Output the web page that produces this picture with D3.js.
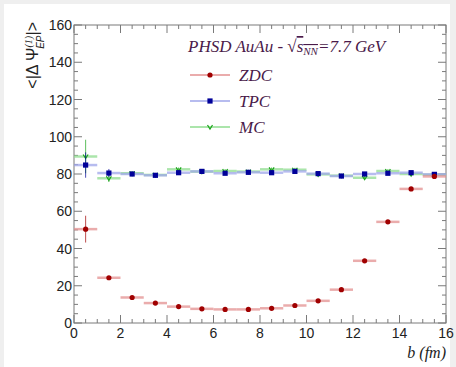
<!DOCTYPE html>
<html>
<head>
<meta charset="utf-8">
<script src="https://cdn.jsdelivr.net/npm/d3@7"></script>
<style>
  body { margin: 0; background: #efefef; }
  svg { display: block; }
</style>
</head>
<body>
<svg id="chart" width="456" height="367"></svg>
<script>
// bin centres of impact parameter b (fm), width 1 fm
const bCenters = [0.5, 1.5, 2.5, 3.5, 4.5, 5.5, 6.5, 7.5, 8.5, 9.5, 10.5, 11.5, 12.5, 13.5, 14.5, 15.5];
const zdcValues = [50.4, 24.3, 13.7, 10.7, 8.8, 7.6, 7.3, 7.3, 7.9, 9.4, 11.9, 17.9, 33.4, 54.3, 72.0, 78.7];
const zdcErrors = [7.2, 0.6, 0.5, 0.4, 0.3, 0.3, 0.3, 0.3, 0.3, 0.3, 0.4, 0.5, 0.6, 0.7, 0.8, 0.9];
const tpcValues = [84.8, 80.5, 80.0, 79.3, 80.7, 81.4, 80.4, 80.9, 80.7, 81.4, 80.2, 78.9, 80.0, 80.4, 80.7, 79.8];
const tpcErrors = [6.8, 2.2, 1.2, 1.0, 1.0, 1.0, 0.9, 0.9, 0.9, 0.9, 0.9, 0.9, 1.0, 1.0, 1.0, 1.0];
const mcValues = [89.4, 77.7, 80.4, 79.5, 82.5, 81.3, 81.6, 81.3, 82.5, 82.3, 79.8, 79.1, 78.0, 81.6, 80.0, 79.6];
const mcErrors = [9.0, 2.0, 1.2, 1.0, 1.0, 1.0, 1.0, 1.0, 1.0, 1.0, 1.0, 1.0, 1.0, 1.0, 1.0, 1.0];
const xTicks = [0, 2, 4, 6, 8, 10, 12, 14, 16];
const yTicks = [0, 20, 40, 60, 80, 100, 120, 140, 160];
const legendNames = ["ZDC", "TPC", "MC"];

const PLOT = { left: 74, right: 446, top: 25, bottom: 323 };
const AXIS_COLOR = "#7a7a7a";
const TEXT_COLOR = "#4a1a4a";

const svg = d3.select("#chart");

// white pad
svg.append("rect")
  .attr("x", 4).attr("y", 4)
  .attr("width", 446).attr("height", 363)
  .attr("fill", "#ffffff");

const x = d3.scaleLinear().domain([0, 16]).range([PLOT.left, PLOT.right]);
const y = d3.scaleLinear().domain([0, 160]).range([PLOT.bottom, PLOT.top]);

// frame with ticks on all four sides
const frame = svg.append("g");
frame.append("rect")
  .attr("x", PLOT.left).attr("y", PLOT.top)
  .attr("width", PLOT.right - PLOT.left).attr("height", PLOT.bottom - PLOT.top)
  .attr("fill", "none").attr("stroke", AXIS_COLOR).attr("stroke-width", 1);

const xMinor = d3.range(0, 16.01, 0.5);
const yMinor = d3.range(0, 160.1, 5);
xMinor.forEach((v) => {
  const len = v % 2 === 0 ? 8 : 4;
  frame.append("line")
    .attr("x1", x(v)).attr("x2", x(v))
    .attr("y1", PLOT.bottom).attr("y2", PLOT.bottom - len)
    .attr("stroke", AXIS_COLOR);
  frame.append("line")
    .attr("x1", x(v)).attr("x2", x(v))
    .attr("y1", PLOT.top).attr("y2", PLOT.top + len)
    .attr("stroke", AXIS_COLOR);
});
yMinor.forEach((v) => {
  const len = v % 20 === 0 ? 8 : 4;
  frame.append("line")
    .attr("x1", PLOT.left).attr("x2", PLOT.left + len)
    .attr("y1", y(v)).attr("y2", y(v))
    .attr("stroke", AXIS_COLOR);
  frame.append("line")
    .attr("x1", PLOT.right).attr("x2", PLOT.right - len)
    .attr("y1", y(v)).attr("y2", y(v))
    .attr("stroke", AXIS_COLOR);
});

// tick labels
svg.append("g")
  .selectAll("text")
  .data(xTicks)
  .join("text")
  .attr("x", (d) => x(d))
  .attr("y", PLOT.bottom + 15)
  .attr("text-anchor", "middle")
  .style("font-family", "Liberation Sans, Arial, sans-serif")
  .style("font-size", "14px")
  .attr("fill", "#222")
  .text((d) => d);

svg.append("g")
  .selectAll("text")
  .data(yTicks)
  .join("text")
  .attr("x", PLOT.left - 2)
  .attr("y", (d) => y(d) + 5)
  .attr("text-anchor", "end")
  .style("font-family", "Liberation Sans, Arial, sans-serif")
  .style("font-size", "14px")
  .attr("fill", "#222")
  .text((d) => d);

// axis titles
const yTitle = svg.append("text")
  .attr("transform", `translate(38, ${PLOT.top - 3}) rotate(-90)`)
  .attr("text-anchor", "end")
  .style("font-family", "Liberation Sans, Arial, sans-serif")
  .style("font-size", "16px")
  .attr("fill", "#222");
yTitle.append("tspan").text("<|\u0394  \u03A8");
yTitle.append("tspan").attr("dy", -6).style("font-size", "10px")
  .style("font-style", "italic").style("font-family", "Liberation Serif, serif").text("(1)");
yTitle.append("tspan").attr("dx", -13).attr("dy", 12).style("font-size", "10px")
  .style("font-style", "italic").text("EP");
yTitle.append("tspan").attr("dy", -6).text("|>");

svg.append("text")
  .attr("x", PLOT.right)
  .attr("y", 358)
  .attr("text-anchor", "end")
  .style("font-family", "Liberation Serif, serif")
  .style("font-style", "italic")
  .style("font-size", "16px")
  .attr("fill", "#222")
  .text("b (fm)");

// series
const series = [
  { name: "MC", values: mcValues, errors: mcErrors, color: "#1aa41a", bar: "#8fdc8f", marker: "tri" },
  { name: "TPC", values: tpcValues, errors: tpcErrors, color: "#000099", bar: "#9fa6ea", marker: "square" },
  { name: "ZDC", values: zdcValues, errors: zdcErrors, color: "#a00000", bar: "#e39090", marker: "circle" }
];

function drawMarker(g, type, cx, cy, color) {
  if (type === "circle") {
    g.append("circle").attr("cx", cx).attr("cy", cy).attr("r", 2.6).attr("fill", color);
  } else if (type === "square") {
    g.append("rect").attr("x", cx - 2.6).attr("y", cy - 2.6)
      .attr("width", 5.2).attr("height", 5.2).attr("fill", color);
  } else {
    g.append("path")
      .attr("d", `M${cx - 2.5},${cy - 2} L${cx},${cy + 2} L${cx + 2.5},${cy - 2}`)
      .attr("fill", "none").attr("stroke", color).attr("stroke-width", 1.2);
  }
}

series.forEach((s) => {
  const g = svg.append("g");
  const pts = bCenters.map((b, i) => ({ b, v: s.values[i], e: s.errors[i] }));
  g.selectAll("line.h")
    .data(pts)
    .join("line")
    .attr("class", "h")
    .attr("x1", (d) => x(d.b - 0.5))
    .attr("x2", (d) => x(d.b + 0.5))
    .attr("y1", (d) => y(d.v))
    .attr("y2", (d) => y(d.v))
    .attr("stroke", s.bar)
    .attr("stroke-opacity", 0.75)
    .attr("stroke-width", 2.5);
  g.selectAll("line.v")
    .data(pts)
    .join("line")
    .attr("class", "v")
    .attr("x1", (d) => x(d.b))
    .attr("x2", (d) => x(d.b))
    .attr("y1", (d) => y(d.v - d.e))
    .attr("y2", (d) => y(d.v + d.e))
    .attr("stroke", s.color)
    .attr("stroke-opacity", 0.7)
    .attr("stroke-width", 1);
  pts.forEach((d) => drawMarker(g, s.marker, x(d.b), y(d.v), s.color));
});

// legend
svg.append("text")
  .attr("x", 188)
  .attr("y", 52)
  .style("font-family", "Liberation Serif, serif")
  .style("font-style", "italic")
  .style("font-size", "17px")
  .attr("fill", TEXT_COLOR)
  .html("PHSD AuAu - <tspan font-style='normal'>\u221A</tspan><tspan text-decoration='overline'>s<tspan dy='3' font-size='11px'>NN</tspan></tspan><tspan dy='-3'>=7.7 GeV</tspan>");

const legendRows = [
  { name: "ZDC", color: "#a00000", bar: "#e39090", marker: "circle", yPos: 75 },
  { name: "TPC", color: "#000099", bar: "#9fa6ea", marker: "square", yPos: 101 },
  { name: "MC", color: "#1aa41a", bar: "#8fdc8f", marker: "tri", yPos: 127 }
];
legendRows.forEach((r) => {
  const g = svg.append("g");
  g.append("line")
    .attr("x1", 190).attr("x2", 230)
    .attr("y1", r.yPos).attr("y2", r.yPos)
    .attr("stroke", r.bar).attr("stroke-width", 1.5);
  drawMarker(g, r.marker, 210, r.yPos, r.color);
  g.append("text")
    .attr("x", 239)
    .attr("y", r.yPos + 6)
    .style("font-family", "Liberation Serif, serif")
    .style("font-style", "italic")
    .style("font-size", "17px")
    .attr("fill", TEXT_COLOR)
    .text(r.name);
});
</script>
</body>
</html>
